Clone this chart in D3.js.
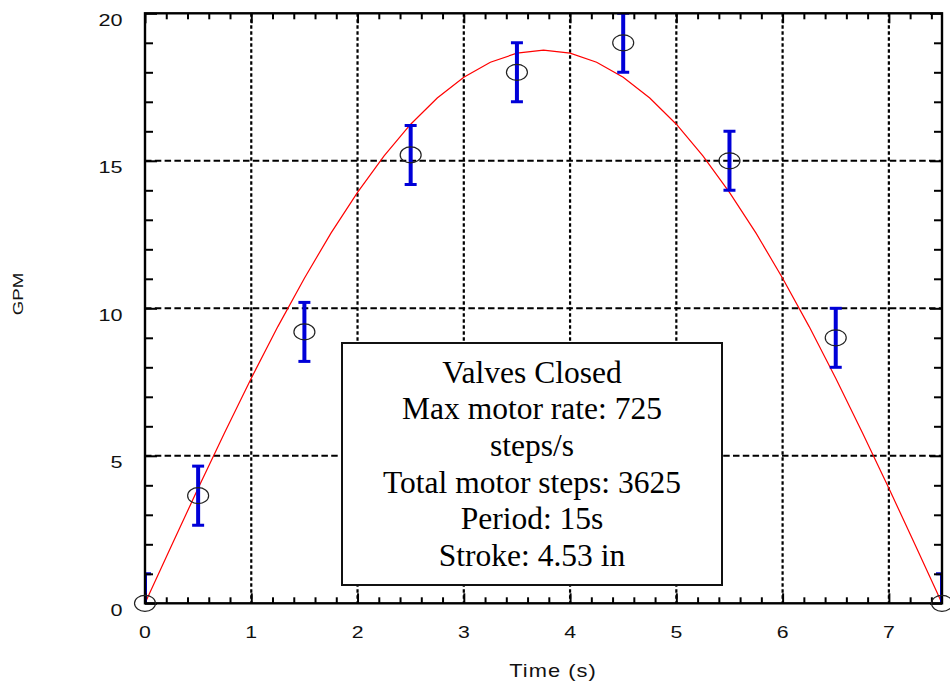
<!DOCTYPE html>
<html>
<head>
<meta charset="utf-8">
<script src="https://cdn.jsdelivr.net/npm/d3@7"></script>
<style>
  body { margin: 0; background: #fff; }
  svg { display: block; }
</style>
</head>
<body>
<svg id="chart" width="950" height="688"></svg>
<script>
// Measured flow samples (GPM) with their error half-widths
const sampleTimes = [0, 0.5, 1.5, 2.5, 3.5, 4.5, 5.5, 6.5, 7.5];
const sampleFlow  = [0, 3.65, 9.2, 15.2, 18.0, 19.0, 15.0, 9.0, 0];
const flowError   = [1, 1, 1, 1, 1, 1, 1, 1, 1];

// Predicted flow curve
const modelTimes = [0, 0.25, 0.5, 0.75, 1, 1.25, 1.5, 1.75, 2, 2.25, 2.5, 2.75, 3, 3.25, 3.5, 3.75,
                    4, 4.25, 4.5, 4.75, 5, 5.25, 5.5, 5.75, 6, 6.25, 6.5, 6.75, 7, 7.25, 7.5];
const modelFlow  = [0, 1.96, 3.90, 5.79, 7.63, 9.38, 11.02, 12.55, 13.93, 15.17, 16.24, 17.13, 17.83, 18.34, 18.65, 18.75,
                    18.65, 18.34, 17.83, 17.13, 16.24, 15.17, 13.93, 12.55, 11.02, 9.38, 7.63, 5.79, 3.90, 1.96, 0];

// Axis ticks
const xTickValues = [0, 1, 2, 3, 4, 5, 6, 7];
const yTickValues = [0, 5, 10, 15, 20];
const xGridValues = [1, 2, 3, 4, 5, 6, 7];
const yGridValues = [5, 10, 15];

// Annotation text
const infoLines = [
  "Valves Closed",
  "Max motor rate: 725",
  "steps/s",
  "Total motor steps: 3625",
  "Period: 15s",
  "Stroke: 4.53 in"
];

const svg = d3.select("#chart");
const plotL = 145, plotR = 942, plotT = 13.3, plotB = 603.3;

const x = d3.scaleLinear().domain([0, 7.5]).range([plotL, plotR]);
const y = d3.scaleLinear().domain([0, 20]).range([plotB, plotT]);

svg.append("rect").attr("width", 950).attr("height", 688).attr("fill", "#fff");

// clip region for data marks
svg.append("defs").append("clipPath").attr("id", "plotClip")
  .append("rect").attr("x", plotL).attr("y", plotT)
  .attr("width", plotR - plotL).attr("height", plotB - plotT);

// grid
const grid = svg.append("g");
grid.selectAll("line.vx").data(xGridValues).join("line")
  .attr("x1", d => x(d)).attr("x2", d => x(d))
  .attr("y1", plotT).attr("y2", plotB)
  .attr("stroke", "#000").attr("stroke-width", 2.2)
  .attr("stroke-dasharray", "3.5,2.5");
grid.selectAll("line.hy").data(yGridValues).join("line")
  .attr("x1", plotL).attr("x2", plotR)
  .attr("y1", d => y(d)).attr("y2", d => y(d))
  .attr("stroke", "#000").attr("stroke-width", 2)
  .attr("stroke-dasharray", "6.5,3.3");

// annotation box
const boxX = 342, boxY = 343, boxW = 380, boxH = 242;
svg.append("rect")
  .attr("x", boxX).attr("y", boxY).attr("width", boxW).attr("height", boxH)
  .attr("fill", "#fff").attr("stroke", "#111").attr("stroke-width", 2);
svg.append("g").selectAll("text").data(infoLines).join("text")
  .attr("x", boxX + boxW / 2)
  .attr("y", (d, i) => 382.7 + i * 36.6)
  .attr("text-anchor", "middle")
  .attr("font-family", "'Liberation Serif', 'Times New Roman', serif")
  .attr("font-size", 31.5)
  .attr("fill", "#000")
  .text(d => d);

// model curve
const line = d3.line().x(d => x(d[0])).y(d => y(d[1]));
svg.append("path")
  .datum(modelTimes.map((t, i) => [t, modelFlow[i]]))
  .attr("d", line)
  .attr("fill", "none").attr("stroke", "#ff0000").attr("stroke-width", 1.2);

// error bars
const samples = sampleTimes.map((t, i) => ({ t, v: sampleFlow[i], e: flowError[i] }));
const bars = svg.append("g").attr("clip-path", "url(#plotClip)");
const capHalf = 6;
bars.selectAll("line.bar").data(samples).join("line")
  .attr("x1", d => x(d.t)).attr("x2", d => x(d.t))
  .attr("y1", d => y(d.v - d.e)).attr("y2", d => y(d.v + d.e))
  .attr("stroke", "#0000d8").attr("stroke-width", 4);
bars.selectAll("line.capTop").data(samples).join("line")
  .attr("x1", d => x(d.t) - capHalf).attr("x2", d => x(d.t) + capHalf)
  .attr("y1", d => y(d.v + d.e)).attr("y2", d => y(d.v + d.e))
  .attr("stroke", "#0000d8").attr("stroke-width", 3);
bars.selectAll("line.capBot").data(samples).join("line")
  .attr("x1", d => x(d.t) - capHalf).attr("x2", d => x(d.t) + capHalf)
  .attr("y1", d => y(d.v - d.e)).attr("y2", d => y(d.v - d.e))
  .attr("stroke", "#0000d8").attr("stroke-width", 3);

// axes with inward ticks
const xMinor = d3.range(0, 7.5001, 0.2).map(v => +v.toFixed(2)).filter(v => !xTickValues.includes(v));
const yMinor = d3.range(0, 20.001, 1).filter(v => !yTickValues.includes(v));

function addAxis(axis, tx, ty) {
  const g = svg.append("g").attr("transform", `translate(${tx},${ty})`).call(axis);
  g.select(".domain").remove();
  g.selectAll(".tick text").remove();
  g.selectAll(".tick line").attr("stroke", "#000").attr("stroke-width", 2);
  return g;
}
// bottom / top
addAxis(d3.axisBottom(x).tickValues(xMinor).tickSize(-6), 0, plotB);
addAxis(d3.axisBottom(x).tickValues(xTickValues).tickSize(-10), 0, plotB);
addAxis(d3.axisTop(x).tickValues(xMinor).tickSize(-6), 0, plotT);
addAxis(d3.axisTop(x).tickValues(xTickValues).tickSize(-10), 0, plotT);
// left / right
addAxis(d3.axisLeft(y).tickValues(yMinor).tickSize(-8), plotL, 0);
addAxis(d3.axisLeft(y).tickValues(yTickValues).tickSize(-12), plotL, 0);
addAxis(d3.axisRight(y).tickValues(yMinor).tickSize(-8), plotR, 0);
addAxis(d3.axisRight(y).tickValues(yTickValues).tickSize(-12), plotR, 0);

// frame
svg.append("rect")
  .attr("x", plotL).attr("y", plotT).attr("width", plotR - plotL).attr("height", plotB - plotT)
  .attr("fill", "none").attr("stroke", "#000").attr("stroke-width", 2.4);

// sample markers
svg.append("g").selectAll("ellipse").data(samples).join("ellipse")
  .attr("cx", d => x(d.t)).attr("cy", d => y(d.v))
  .attr("rx", 10.5).attr("ry", 8)
  .attr("fill", "none").attr("stroke", "#222").attr("stroke-width", 1.2);

// tick labels (sans text is drawn slightly wide)
const labelFont = "'Liberation Sans', Arial, sans-serif";
const wide = 1.25;
svg.append("g").selectAll("text").data(xTickValues).join("text")
  .attr("transform", d => `translate(${x(d)},638) scale(${wide},1)`)
  .attr("text-anchor", "middle")
  .attr("font-family", labelFont).attr("font-size", 17).attr("fill", "#111")
  .text(d => d);
svg.append("g").selectAll("text").data(yTickValues).join("text")
  .attr("transform", d => `translate(122.5,${y(d) + 12.4}) scale(${wide},1)`)
  .attr("text-anchor", "end")
  .attr("font-family", labelFont).attr("font-size", 17.3).attr("fill", "#111")
  .text(d => d);

// axis titles
svg.append("text")
  .attr("transform", `translate(553,677) scale(${wide},1)`)
  .attr("text-anchor", "middle")
  .attr("font-family", labelFont).attr("font-size", 17.5).attr("fill", "#111")
  .attr("letter-spacing", 0.8)
  .text("Time (s)");
svg.append("text")
  .attr("transform", "translate(23,294) rotate(-90) scale(1.2,1)")
  .attr("text-anchor", "middle")
  .attr("font-family", labelFont).attr("font-size", 15.5).attr("fill", "#111")
  .text("GPM");
</script>
</body>
</html>
